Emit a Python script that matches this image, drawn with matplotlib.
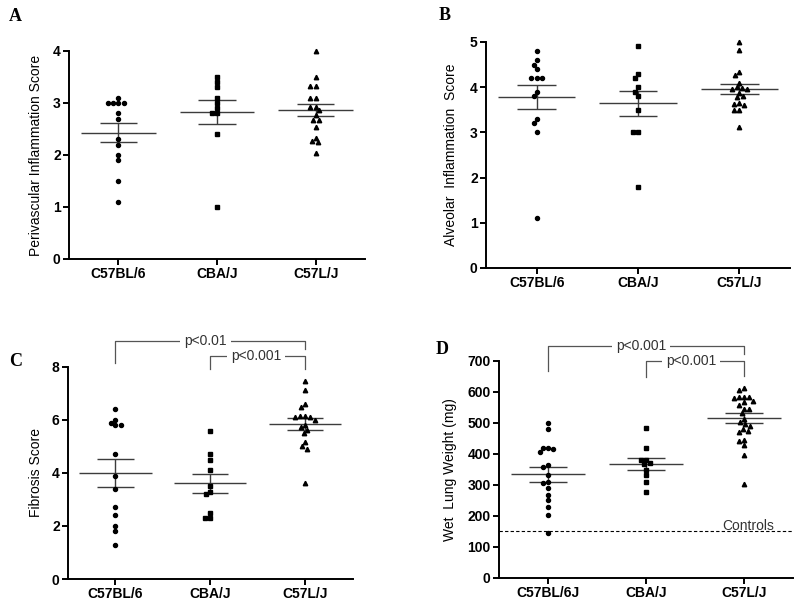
import numpy as np
import matplotlib
matplotlib.use("Agg")
import matplotlib.pyplot as plt

plt.rcParams['font.family'] = ['Liberation Sans', 'DejaVu Sans']

# ---- data ----
strains = ["C57BL/6", "CBA/J", "C57L/J"]
strains_d = ["C57BL/6J", "CBA/J", "C57L/J"]

# A: perivascular inflammation score
peri_b6 = [3.1, 3.0, 3.0, 3.0, 3.0, 2.8, 2.7, 2.3, 2.2, 2.0, 1.9, 1.5, 1.1]
peri_cba = [3.5, 3.4, 3.3, 3.1, 3.0, 2.9, 2.8, 2.8, 2.4, 1.0]
peri_c57l = [4.0, 3.5, 3.33, 3.33, 3.1, 3.1, 2.93, 2.93, 2.86, 2.76, 2.67, 2.67,
             2.53, 2.33, 2.27, 2.24, 2.04]
peri_mean = [2.43, 2.82, 2.86]
peri_sem = [0.18, 0.23, 0.12]

# B: alveolar inflammation score
alv_b6 = [4.8, 4.6, 4.5, 4.4, 4.2, 4.2, 4.2, 3.9, 3.8, 3.3, 3.2, 3.0, 1.1]
alv_cba = [4.9, 4.3, 4.2, 4.0, 3.9, 3.8, 3.5, 3.0, 3.0, 1.8]
alv_c57l = [5.0, 4.82, 4.33, 4.28, 4.1, 4.0, 3.98, 3.97, 3.95, 3.88, 3.8, 3.78,
            3.65, 3.63, 3.6, 3.5, 3.5, 3.11]
alv_mean = [3.78, 3.64, 3.95]
alv_sem = [0.27, 0.275, 0.11]

# C: fibrosis score
fib_b6 = [6.4, 6.0, 5.9, 5.8, 5.8, 4.7, 3.9, 3.4, 2.7, 2.4, 2.0, 1.8, 1.3]
fib_cba = [5.6, 4.7, 4.5, 4.1, 3.5, 3.3, 3.2, 2.5, 2.3, 2.3]
fib_c57l = [7.48, 7.14, 6.59, 6.49, 6.15, 6.15, 6.11, 6.11, 5.99, 5.81, 5.72,
            5.63, 5.5, 5.16, 5.0, 4.92, 3.61]
fib_mean = [4.0, 3.61, 5.85]
fib_sem = [0.51, 0.355, 0.23]

# D: wet lung weight (mg)
wlw_b6 = [500, 482, 420, 420, 417, 407, 364, 358, 332, 309, 306, 291, 267, 250,
          228, 202, 146]
wlw_cba = [484, 420, 382, 381, 371, 367, 349, 331, 310, 277]
wlw_c57l = [611, 606, 585, 583, 583, 580, 572, 567, 559, 546, 546, 531, 514, 502,
            496, 491, 481, 474, 470, 445, 442, 428, 396, 303]
wlw_mean = [334, 368, 516]
wlw_sem = [25, 19, 15]
controls_level = 150

markers = ['o', 's', '^']
msizes = [2.9, 2.7, 3.2]


def swarm_offsets(ypix, dmin):
    # place each point as close to the centre line as possible without overlap
    placed = []
    xs = []
    for y in ypix:
        cands = [0.0]
        for px, py in placed:
            dy = abs(py - y)
            if dy < dmin:
                dx = np.sqrt(dmin ** 2 - dy ** 2)
                cands += [px - dx, px + dx]
        cands.sort(key=abs)
        chosen = 0.0
        for c in cands:
            if all((c - px) ** 2 + (y - py) ** 2 >= dmin ** 2 - 1e-6 for px, py in placed):
                chosen = c
                break
        placed.append((chosen, y))
        xs.append(chosen)
    return np.array(xs)


def scatter_panel(ax, groups, means, sems, ymax, yticks, ylabel, names, label_x):
    ax.set_xlim(0.5, 3.5)
    ax.set_ylim(0, ymax)
    fig = ax.figure
    bbox = ax.get_position()
    w_px = bbox.width * fig.get_figwidth() * fig.dpi
    h_px = bbox.height * fig.get_figheight() * fig.dpi
    x_scale = w_px / 3.0
    y_scale = h_px / ymax

    for i, vals in enumerate(groups):
        vals = np.array(vals, dtype=float)
        offs = swarm_offsets(vals * y_scale, 5.2) / x_scale
        ax.plot(i + 1 + offs, vals, linestyle='none', marker=markers[i],
                ms=msizes[i], color='black', clip_on=False, zorder=3)
        m, s = means[i], sems[i]
        ax.hlines(m, i + 1 - 0.38, i + 1 + 0.38, color='#3c3c3c', lw=1.0, zorder=2)
        ax.hlines([m - s, m + s], i + 1 - 0.19, i + 1 + 0.19, color='#3c3c3c', lw=1.0, zorder=2)
        ax.vlines(i + 1, m - s, m + s, color='#3c3c3c', lw=1.0, zorder=2)

    ax.set_xticks([1, 2, 3])
    ax.set_xticklabels(names, fontsize=10, fontweight='bold')
    ax.set_yticks(yticks)
    ax.set_yticklabels([str(t) for t in yticks], fontsize=10, fontweight='bold')
    ax.set_ylabel(ylabel, fontsize=10)
    ax.yaxis.set_label_coords(label_x, 0.5)
    for side in ['top', 'right']:
        ax.spines[side].set_visible(False)
    for side in ['left', 'bottom']:
        ax.spines[side].set_linewidth(1.4)
    ax.tick_params(direction='out', length=4, width=1.4, pad=2)


def bracket(ax, x1, x2, y_top, y1, y2, text, tx):
    kw = dict(color='#555555', lw=0.9, clip_on=False)
    ax.plot([x1, x1, x2, x2], [y1, y_top, y_top, y2], **kw)
    ax.text(tx, y_top, text, ha='center', va='center', fontsize=10, color='#333333',
            bbox=dict(facecolor='white', edgecolor='none', pad=3), zorder=4)


fig = plt.figure(figsize=(8.0, 6.03), dpi=100)

ax_a = fig.add_axes([0.08625, 0.5705, 0.37, 0.345])
ax_b = fig.add_axes([0.6075, 0.5556, 0.38, 0.3748])
ax_c = fig.add_axes([0.085, 0.0398, 0.356, 0.3516])
ax_d = fig.add_axes([0.62375, 0.0415, 0.3675, 0.36])

scatter_panel(ax_a, [peri_b6, peri_cba, peri_c57l], peri_mean, peri_sem, 4,
              [0, 1, 2, 3, 4], "Perivascular Inflammation Score", strains, -0.088)
scatter_panel(ax_b, [alv_b6, alv_cba, alv_c57l], alv_mean, alv_sem, 5,
              [0, 1, 2, 3, 4, 5], "Alveolar  Inflammation  Score", strains, -0.092)
scatter_panel(ax_c, [fib_b6, fib_cba, fib_c57l], fib_mean, fib_sem, 8,
              [0, 2, 4, 6, 8], "Fibrosis Score", strains, -0.088)
scatter_panel(ax_d, [wlw_b6, wlw_cba, wlw_c57l], wlw_mean, wlw_sem, 700,
              list(range(0, 701, 100)), "Wet  Lung Weight (mg)", strains_d, -0.143)

# significance brackets
bracket(ax_c, 1, 3, 8.98, 8.14, 8.67, "p<0.01", 1.95)
bracket(ax_c, 2, 3, 8.42, 7.91, 7.91, "p<0.001", 2.48)
bracket(ax_d, 1, 3, 749, 669, 722, "p<0.001", 1.95)
bracket(ax_d, 2, 3, 700, 649, 650, "p<0.001", 2.46)

# control level in panel D
ax_d.axhline(controls_level, color='black', lw=0.8, ls=(0, (3, 2)), zorder=1)
ax_d.text(2.78, controls_level - 4, "Controls", ha='left', va='bottom', fontsize=10,
          color='#333333')

# panel letters
for letter, (lx, ly) in zip("ABCD", [(0.019, 0.973), (0.556, 0.975),
                                     (0.019, 0.400), (0.5525, 0.421)]):
    fig.text(lx, ly, letter, ha='center', va='center', fontsize=13, fontweight='bold',
             family=['Liberation Serif', 'DejaVu Serif'])

fig.savefig("out.png", dpi=100)
